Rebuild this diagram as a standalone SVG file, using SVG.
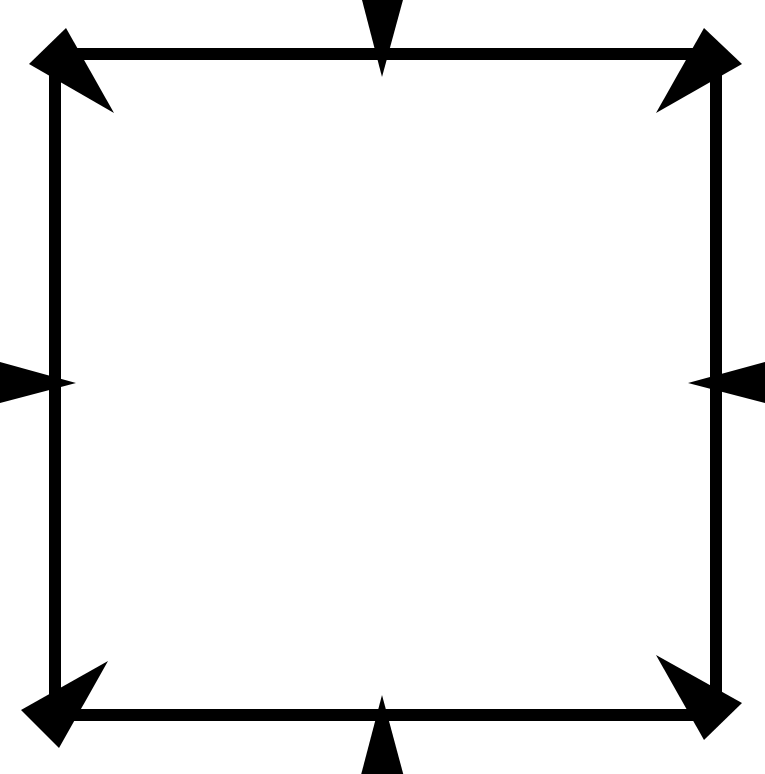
<svg xmlns="http://www.w3.org/2000/svg" width="765" height="774" viewBox="0 0 765 774">
<style>
.edge{fill:none;stroke:#000;stroke-width:12;stroke-linejoin:miter}
.tri{fill:#000;stroke:none}
</style>
<rect x="0" y="0" width="765" height="774" fill="#fff"/>
<g id="frame">
<rect class="edge" x="55" y="54" width="661" height="661"/>
</g>
<g id="corner-marks">
<polygon class="tri" points="29,64 66,28 114,113"/>
<polygon class="tri" points="704,28 742,64 656,113"/>
<polygon class="tri" points="21,710 59,748 108,661"/>
<polygon class="tri" points="742,703 704,740 656,655"/>
</g>
<g id="edge-marks">
<polygon class="tri" points="361.5,-2 403.5,-2 382,77"/>
<polygon class="tri" points="361,775 403.5,775 382,695"/>
<polygon class="tri" points="-2,361.5 -2,403.5 76,383"/>
<polygon class="tri" points="767,361.5 767,403.5 688,383"/>
</g>
</svg>
